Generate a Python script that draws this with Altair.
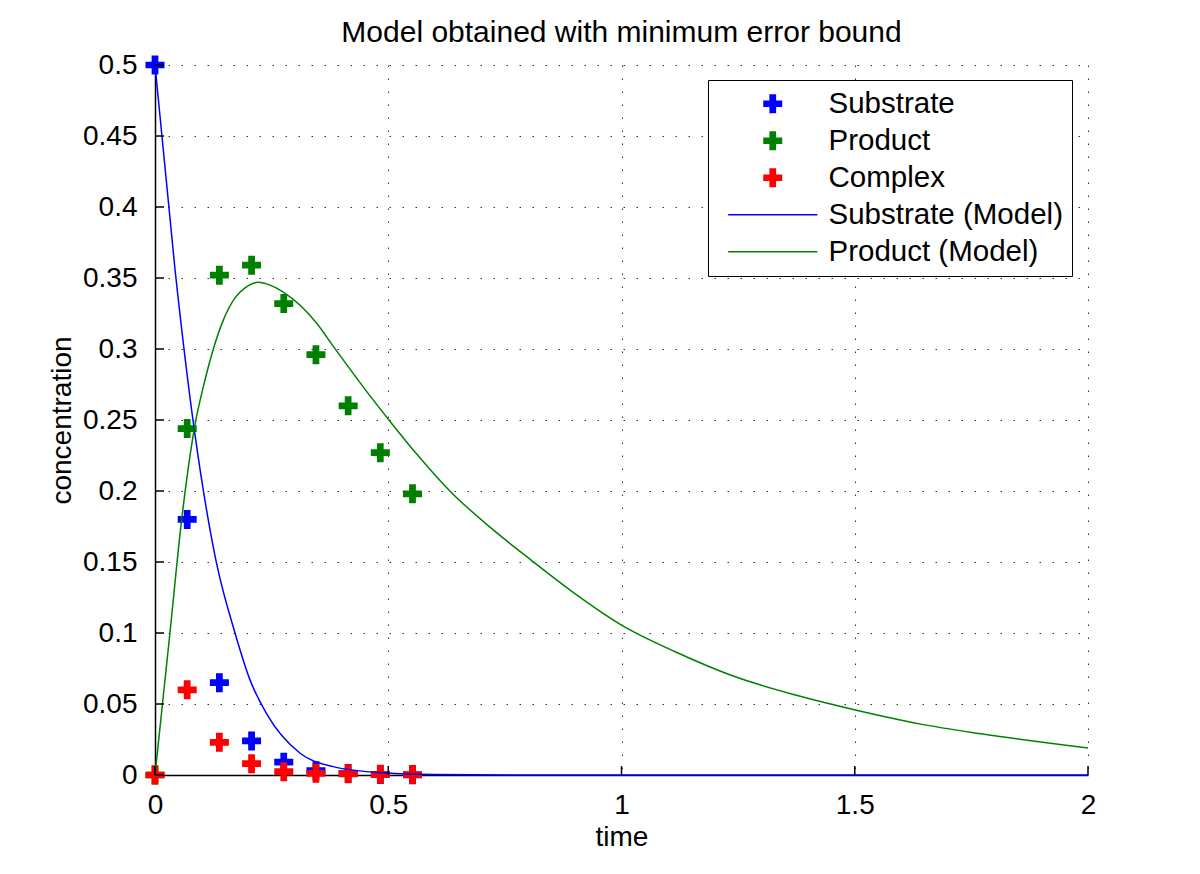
import altair as alt
import pandas as pd

# ---------------- data ----------------
t_obs = [0, 0.069, 0.138, 0.207, 0.276, 0.345, 0.414, 0.483, 0.552]
substrate_obs = [0.5, 0.180, 0.065, 0.024, 0.009, 0.003, 0.001, 0.0004, 0.0001]
product_obs = [0.0, 0.244, 0.352, 0.359, 0.332, 0.296, 0.260, 0.227, 0.198]
complex_obs = [0.0, 0.060, 0.023, 0.008, 0.0023, 0.0012, 0.0008, 0.0005, 0.0003]

t_sub_model = [0, 0.0429, 0.0843, 0.114, 0.132, 0.1715, 0.2036, 0.2394, 0.311,
               0.382, 0.489, 0.6, 0.8, 1.0, 1.5, 2.0]
substrate_model = [0.5, 0.356, 0.243, 0.180, 0.149, 0.100, 0.067, 0.043, 0.0153,
                   0.0059, 0.0015, 0.0003, 0.0, 0.0, 0.0, 0.0]

t_prod_model = [0, 0.032, 0.0572, 0.0843, 0.107, 0.125, 0.146, 0.1715, 0.193,
                0.2215, 0.2465, 0.275, 0.347, 0.382, 0.454, 0.504, 0.561, 0.632,
                0.72, 0.8075, 0.895, 1.0, 1.114, 1.2455, 1.377, 1.499, 1.639,
                1.771, 2.0]
product_model = [0.0, 0.100, 0.180, 0.244, 0.278, 0.300, 0.320, 0.336, 0.343,
                 0.347, 0.345, 0.340, 0.318, 0.302, 0.270, 0.249, 0.226, 0.200,
                 0.174, 0.151, 0.129, 0.1056, 0.087, 0.069, 0.056, 0.046, 0.036,
                 0.029, 0.019]

series_names = ["Substrate", "Product", "Complex", "Substrate (Model)", "Product (Model)"]
series_colors = ["#0000ff", "#008000", "#ff0000", "#0000ff", "#008000"]

x_ticks = [0, 0.5, 1, 1.5, 2]
y_ticks = [0, 0.05, 0.1, 0.15, 0.2, 0.25, 0.3, 0.35, 0.4, 0.45, 0.5]

# ---------------- tables ----------------
obs_rows = []
for name, vals in [("Substrate", substrate_obs), ("Product", product_obs), ("Complex", complex_obs)]:
    for t, v in zip(t_obs, vals):
        obs_rows.append({"series": name, "t": t, "c": v})
obs_df = pd.DataFrame(obs_rows)

model_rows = []
for name, ts, vals in [("Substrate (Model)", t_sub_model, substrate_model),
                       ("Product (Model)", t_prod_model, product_model)]:
    for t, v in zip(ts, vals):
        model_rows.append({"series": name, "t": t, "c": v})
model_df = pd.DataFrame(model_rows)

xtick_df = pd.DataFrame({"t": x_ticks})
ytick_df = pd.DataFrame({"c": y_ticks})

# ---------------- styling ----------------
FONT = "Liberation Sans"
cross_path = ("M-1,-0.3L-0.3,-0.3L-0.3,-1L0.3,-1L0.3,-0.3L1,-0.3L1,0.3L0.3,0.3"
              "L0.3,1L-0.3,1L-0.3,0.3L-1,0.3Z")
line_path = "M-5.1,0L5.1,0"
series_shapes = [cross_path, cross_path, cross_path, line_path, line_path]

x_scale = alt.Scale(domain=[0, 2], nice=False, zero=False)
y_scale = alt.Scale(domain=[0, 0.5], nice=False, zero=False)
x_axis = alt.Axis(values=x_ticks, format="~g", labelPadding=16, titlePadding=4,
                  labelOverlap=False, labelFlush=False)
y_axis = alt.Axis(values=y_ticks, format="~g", labelPadding=18, titlePadding=6,
                  labelOverlap=False, labelFlush=False)


def X(field="t"):
    return alt.X(f"{field}:Q", scale=x_scale, axis=x_axis, title="time")


def Y(field="c"):
    return alt.Y(f"{field}:Q", scale=y_scale, axis=y_axis, title="concentration")


points = alt.Chart(obs_df).mark_point(
    filled=True, size=306, strokeWidth=1.5, opacity=1
).encode(
    x=X(),
    y=Y(),
    fill=alt.Fill("series:N", scale=alt.Scale(domain=series_names, range=series_colors),
                  legend=alt.Legend(title=None)),
    stroke=alt.Stroke("series:N", scale=alt.Scale(domain=series_names, range=series_colors),
                      legend=alt.Legend(title=None)),
    shape=alt.Shape("series:N", scale=alt.Scale(domain=series_names, range=series_shapes),
                    legend=alt.Legend(title=None)),
)

lines = alt.Chart(model_df).mark_line(strokeWidth=1.5, interpolate="monotone").encode(
    x=X(),
    y=Y(),
    color=alt.Color("series:N",
                    scale=alt.Scale(domain=series_names[3:], range=series_colors[3:]),
                    legend=None),
)

xticks = alt.Chart(xtick_df).mark_rule(color="black", strokeWidth=1.5, y2Offset=-9).encode(
    x=X(), y=alt.datum(0), y2=alt.datum(0)
)
yticks = alt.Chart(ytick_df).mark_rule(color="black", strokeWidth=1.5, x2Offset=9).encode(
    y=Y(), x=alt.datum(0), x2=alt.datum(0)
)

chart = alt.layer(points, lines, xticks, yticks).resolve_scale(
    color="independent"
).properties(
    width=933,
    height=710,
    autosize=alt.AutoSizeParams(type="none"),
    padding={"left": 147, "top": 57, "right": 90, "bottom": 80},
    background="white",
    title=alt.TitleParams("Model obtained with minimum error bound"),
).configure_view(
    stroke="transparent"
).configure_axis(
    domainColor="black", domainWidth=1.5, ticks=False,
    labelFont=FONT, labelFontSize=28, labelColor="black",
    titleFont=FONT, titleFontSize=28, titleFontWeight="normal", titleColor="black",
    grid=True, gridColor="black", gridDash=[1.5, 11.5], gridWidth=1, gridOpacity=0.8,
).configure_title(
    font=FONT, fontSize=30, fontWeight="normal", color="black",
    anchor="middle", baseline="alphabetic", offset=3,
).configure_legend(
    orient="none", legendX=553, legendY=15, padding=9,
    strokeColor="black", fillColor="white",
    labelFont=FONT, labelFontSize=29.5, labelColor="black", labelLimit=400,
    symbolSize=306, symbolStrokeWidth=1.5, symbolOpacity=1,
    symbolOffset=41, labelOffset=41, rowPadding=6,
)

chart.save("out.html", embed_options={"renderer": "svg", "actions": False})
